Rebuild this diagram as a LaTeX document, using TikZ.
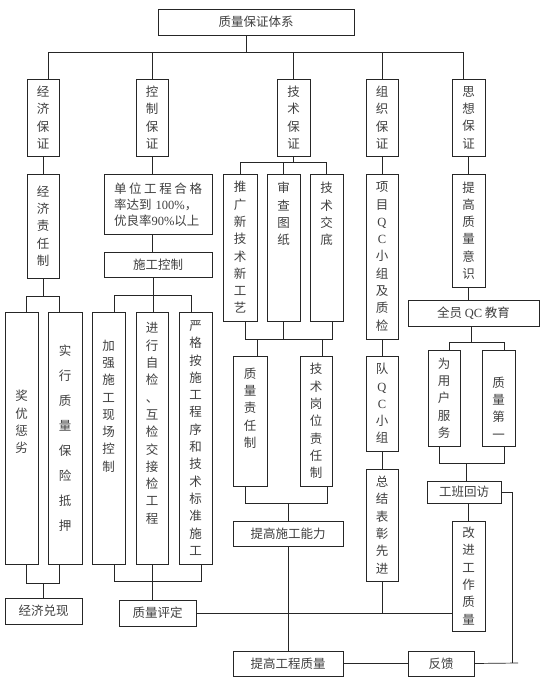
\documentclass[tikz,border=0pt]{standalone}
\usepackage{fontspec}
\setmainfont{Liberation Serif}
\newfontfamily\cjk{Noto Sans CJK SC}
\newfontfamily\lat{Liberation Serif}
\newcommand\bx[7][]{\node[box,txt,#1,minimum width={#5-#3},minimum height={#6-#4}] (#2) at ({(#3+#5)/2},{(#4+#6)/2}) {#7};}
\begin{document}
\begin{tikzpicture}[x=1pt,y=-1pt,
  box/.style={draw=black!85,line width=0.7pt,inner sep=0pt,fill=white},
  txt/.style={font=\cjk\fontsize{12.5}{17.3}\selectfont,text=black!75,align=center,inner sep=0pt},
  ln/.style={draw=black!85,line width=0.7pt}]
\useasboundingbox[fill=white] (0,0) rectangle (554,687);

% ---------- boxes ----------
\bx{top}{158}{9}{354}{35}{质量保证体系}
\bx{jjbz}{27}{79}{59}{156}{经\\济\\保\\证}
\bx{kzbz}{136}{79}{168}{156}{控\\制\\保\\证}
\bx{jsbz}{277}{79}{310}{156}{技\\术\\保\\证}
\bx{zzbz}{366}{79}{398}{156}{组\\织\\保\\证}
\bx{sxbz}{452}{79}{485}{156}{思\\想\\保\\证}

\bx{jjzr}{27}{174}{59}{278}{经\\济\\责\\任\\制}
\bx{dwgc}{104}{174}{212}{234}{}
\node[txt,font=\cjk\fontsize{12.5}{16}\selectfont,align=left,text width=88pt] (dwgc-t) at (158,205)
  {\makebox[88pt][s]{单\hfill 位\hfill 工\hfill 程\hfill 合\hfill 格}\\率达到 {\lat 100\%}，\\优良率{\lat 90\%}以上};
\bx{sgkz}{104}{252}{212}{277}{施工控制}
\bx{tgxj}{223}{174}{257}{321}{推\\广\\新\\技\\术\\新\\工\\艺}
\bx{sctz}{267}{174}{300}{321}{}
\node[txt] (sctz-t) at (283.5,214) {审\\查\\图\\纸};
\bx{jsjd}{310}{174}{343}{321}{}
\node[txt] (jsjd-t) at (326.5,214) {技\\术\\交\\底};
\bx{xmqc}{366}{174}{398}{339}{项\\目\\{\lat Q}\\{\lat C}\\小\\组\\及\\质\\检}
\bx{tgzl}{452}{174}{485}{287}{提\\高\\质\\量\\意\\识}
\bx{qyqc}{408}{300}{539}{326}{全员 {\lat QC} 教育}
\bx{wyhf}{428}{350}{460}{446}{为\\用\\户\\服\\务}
\bx{zldy}{482}{350}{515}{446}{}
\node[txt] (zldy-t) at (498.5,408) {质\\量\\第\\一};
\bx{gbhf}{427}{481}{501}{503}{工班回访}
\bx{gjgz}{452}{521}{485}{631}{改\\进\\工\\作\\质\\量}
\bx{fk}{408}{651}{474}{676}{反馈}
\bx{tggczl}{233}{651}{343}{676}{提高工程质量}
\bx{dqc}{366}{356}{398}{451}{队\\{\lat Q}\\{\lat C}\\小\\组}
\bx{zjbz}{366}{469}{398}{581}{总\\结\\表\\彰\\先\\进}
\bx{zlzr}{233}{356}{267}{486}{}
\node[txt] (zlzr-t) at (250,408) {质\\量\\责\\任\\制};
\bx{jsgw}{300}{356}{332}{486}{技\\术\\岗\\位\\责\\任\\制}
\bx{tgsg}{233}{521}{343}{546}{提高施工能力}
\bx{zlpd}{119}{600}{196}{626}{质量评定}
\bx{jylb}{5}{312}{38}{564}{}
\node[txt] (jylb-t) at (21.5,422) {奖\\优\\惩\\劣};
\bx[font=\cjk\fontsize{12.5}{25}\selectfont]{sxzl}{48}{312}{82}{564}{实\\行\\质\\量\\保\\险\\抵\\押}
\bx{jjdx}{5}{598}{82}{624}{经济兑现}
\bx{jqsg}{92}{312}{125}{564}{}
\node[txt] (jqsg-t) at (108.5,406) {加\\强\\施\\工\\现\\场\\控\\制};
\bx{jxzj}{136}{312}{168}{564}{}
\node[txt] (jxzj-t) at (152,423.5) {进\\行\\自\\检\\、\\互\\检\\交\\接\\检\\工\\程};
\bx{ygaj}{179}{312}{212}{564}{严\\格\\按\\施\\工\\程\\序\\和\\技\\术\\标\\准\\施\\工}

% ---------- bus coordinates ----------
\coordinate (b1) at (246,52);
\coordinate (b2) at (293,162);
\coordinate (b3) at (153,295);
\coordinate (b4) at (471,342);
\coordinate (b5) at (466,463);
\coordinate (b6) at (288,339);
\coordinate (b7) at (288,503);
\coordinate (b8) at (43,296);
\coordinate (b9) at (43,583);
\coordinate (b10) at (154,581);
\coordinate (c1) at (512,663);
\coordinate (c2) at (518,663);

\coordinate (p1) at ([xshift=5.5pt]jqsg.north);
\coordinate (p2) at ([xshift=-4.5pt]ygaj.north);
\coordinate (p3) at ([xshift=5pt]wyhf.north);
\coordinate (p4) at ([xshift=5.5pt]zldy.north);
\coordinate (p5) at ([xshift=-5pt]wyhf.south);
\coordinate (p6) at ([xshift=5.5pt]zldy.south);
\coordinate (p7) at ([xshift=5pt]tgxj.south);
\coordinate (p8) at ([xshift=5.5pt]jsjd.south);
\coordinate (p9) at ([xshift=7pt]zlzr.north);
\coordinate (p10) at ([xshift=6pt]jsgw.north);
\coordinate (p11) at ([xshift=-5pt]zlzr.south);
\coordinate (p12) at ([xshift=11pt]jsgw.south);
\coordinate (p13) at ([xshift=5.5pt]jqsg.south);
\coordinate (p14) at ([xshift=5.5pt]ygaj.south);
\coordinate (p15) at ([xshift=5pt]jjbz.north);
\coordinate (p16) at ([xshift=-5pt]sxbz.north);

% ---------- connectors ----------
\draw[ln] (top.south -| b1) -- (b1);
\draw[ln] (p15) -- (p15 |- b1) -- (p16 |- b1) -- (p16);
\foreach \n in {kzbz,jsbz,zzbz} \draw[ln] (\n.north) -- (\n.north |- b1);

\draw[ln] (jjbz.south) -- (jjzr.north);
\draw[ln] (kzbz.south) -- (kzbz.south |- dwgc.north);
\draw[ln] (kzbz.south |- dwgc.south) -- (kzbz.south |- sgkz.north);
\draw[ln] (sgkz.south -| b3) -- (b3 |- jxzj.north);
\draw[ln] (p1) -- (p1 |- b3) -- (p2 |- b3) -- (p2);

\draw[ln] (jsbz.south) -- (jsbz.south |- b2);
\draw[ln] (tgxj.north) -- (tgxj.north |- b2) -- (jsjd.north |- b2) -- (jsjd.north);
\draw[ln] (sctz.north) -- (sctz.north |- b2);

\draw[ln] (zzbz.south) -- (xmqc.north);
\draw[ln] (xmqc.south) -- (dqc.north);
\draw[ln] (dqc.south) -- (zjbz.north);
\draw[ln] (zjbz.south) -- (zjbz.south |- zlpd.east);
\draw[ln] (zlpd.east) -- (zlpd.east -| gjgz.west);

\draw[ln] (sxbz.south) -- (tgzl.north);
\draw[ln] (tgzl.south) -- (tgzl.south |- qyqc.north);
\draw[ln] (qyqc.south -| b4) -- (b4);
\draw[ln] (p3) -- (p3 |- b4) -- (p4 |- b4) -- (p4);
\draw[ln] (p5) -- (p5 |- b5) -- (p6 |- b5) -- (p6);
\draw[ln] (b5) -- (b5 |- gbhf.north);
\draw[ln] (gjgz.north |- gbhf.south) -- (gjgz.north);
\draw[ln] (gbhf.east) -| (c1);
\draw[ln] (fk.east) -- (c2);

\draw[ln] (p7) -- (p7 |- b6) -- (p8 |- b6) -- (p8);
\draw[ln] (sctz.south) -- (sctz.south |- b6);
\draw[ln] (p9 |- b6) -- (p9);
\draw[ln] (p10 |- b6) -- (p10);
\draw[ln] (p11) -- (p11 |- b7) -- (p12 |- b7) -- (p12);
\draw[ln] (b7) -- (b7 |- tgsg.north);
\draw[ln] (tgsg.south) -- (tggczl.north);
\draw[ln] (tggczl.east) -- (fk.west);

\draw[ln] (jjzr.south) -- (b8);
\draw[ln] (jylb.north -| jjzr.west) -- (jjzr.west |- b8) -- (jjzr.east |- b8) -- (jylb.north -| jjzr.east);
\draw[ln] (jylb.south -| jjzr.west) -- (jjzr.west |- b9) -- (jjzr.east |- b9) -- (jylb.south -| jjzr.east);
\draw[ln] (b9) -- (b9 |- jjdx.north);

\draw[ln] (p13) -- (p13 |- b10) -- (p14 |- b10) -- (p14);
\draw[ln] (jxzj.south) -- (jxzj.south |- zlpd.north);
\end{tikzpicture}
\end{document}
